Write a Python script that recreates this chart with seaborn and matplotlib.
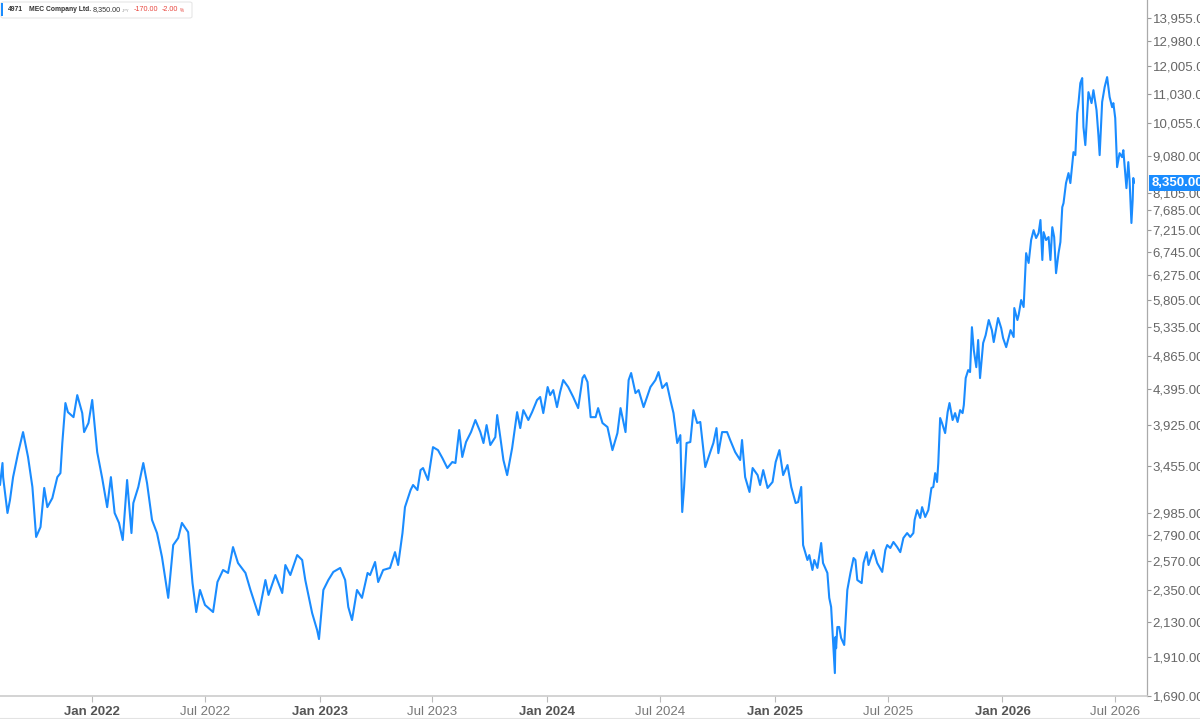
import pandas as pd
import matplotlib.pyplot as plt
from matplotlib.ticker import FixedLocator, FuncFormatter, NullLocator
from matplotlib.patches import FancyBboxPatch, Rectangle
from matplotlib.lines import Line2D
import seaborn as sns

# daily closes (JPY)
dates = [
    '2021-08-06', '2021-08-10', '2021-08-11', '2021-08-18', '2021-08-22', '2021-08-27', '2021-09-04',
    '2021-09-12', '2021-09-20', '2021-09-27', '2021-10-03', '2021-10-10', '2021-10-16', '2021-10-21',
    '2021-10-29', '2021-11-06', '2021-11-11', '2021-11-14', '2021-11-19', '2021-11-23', '2021-12-02',
    '2021-12-08', '2021-12-16', '2021-12-19', '2021-12-26',
    '2022-01-01', '2022-01-09', '2022-01-17', '2022-01-25', '2022-01-31', '2022-02-06', '2022-02-13',
    '2022-02-19', '2022-02-26', '2022-03-05', '2022-03-08', '2022-03-16', '2022-03-24', '2022-03-30',
    '2022-04-07', '2022-04-15', '2022-04-23', '2022-05-03', '2022-05-11', '2022-05-19', '2022-05-25',
    '2022-06-04', '2022-06-11', '2022-06-17', '2022-06-23', '2022-07-01', '2022-07-14', '2022-07-21',
    '2022-07-30', '2022-08-07', '2022-08-15', '2022-08-23', '2022-09-04', '2022-09-12', '2022-09-25',
    '2022-10-06', '2022-10-11', '2022-10-22', '2022-11-02', '2022-11-07', '2022-11-15', '2022-11-26',
    '2022-12-04', '2022-12-09', '2022-12-20', '2022-12-28', '2022-12-31',
    '2023-01-07', '2023-01-15', '2023-01-23', '2023-02-03', '2023-02-11', '2023-02-16', '2023-02-22',
    '2023-03-02', '2023-03-10', '2023-03-19', '2023-03-23', '2023-03-31', '2023-04-05', '2023-04-13',
    '2023-04-24', '2023-05-02', '2023-05-07', '2023-05-14', '2023-05-18', '2023-05-27', '2023-05-31',
    '2023-06-07', '2023-06-12', '2023-06-16', '2023-06-24', '2023-07-02', '2023-07-10', '2023-07-17',
    '2023-07-25', '2023-08-02', '2023-08-07', '2023-08-13', '2023-08-18', '2023-08-24', '2023-09-01',
    '2023-09-08', '2023-09-16', '2023-09-21', '2023-09-26', '2023-10-02', '2023-10-10', '2023-10-13',
    '2023-10-18', '2023-10-23', '2023-10-29', '2023-11-06', '2023-11-14', '2023-11-19', '2023-11-24',
    '2023-12-02', '2023-12-08', '2023-12-16', '2023-12-21', '2023-12-26',
    '2024-01-02', '2024-01-06', '2024-01-11', '2024-01-17', '2024-01-22', '2024-01-27', '2024-02-04',
    '2024-02-12', '2024-02-20', '2024-02-27', '2024-03-01', '2024-03-06', '2024-03-11', '2024-03-19',
    '2024-03-23', '2024-03-30', '2024-04-07', '2024-04-15', '2024-04-23', '2024-04-28', '2024-05-06',
    '2024-05-11', '2024-05-15', '2024-05-22', '2024-05-27', '2024-06-04', '2024-06-15', '2024-06-23',
    '2024-06-28', '2024-07-04', '2024-07-11', '2024-07-17', '2024-07-22', '2024-07-28', '2024-08-02',
    '2024-08-05', '2024-08-08', '2024-08-12', '2024-08-18', '2024-08-23', '2024-08-29', '2024-09-03',
    '2024-09-11', '2024-09-19', '2024-09-24', '2024-09-29', '2024-10-02', '2024-10-08', '2024-10-16',
    '2024-10-21', '2024-10-29', '2024-11-06', '2024-11-09', '2024-11-14', '2024-11-21', '2024-11-26',
    '2024-12-04', '2024-12-08', '2024-12-13', '2024-12-20', '2024-12-28',
    '2025-01-02', '2025-01-08', '2025-01-14', '2025-01-21', '2025-01-27', '2025-02-03', '2025-02-07',
    '2025-02-12', '2025-02-15', '2025-02-22', '2025-02-25', '2025-03-02', '2025-03-05', '2025-03-10',
    '2025-03-16', '2025-03-19', '2025-03-26', '2025-03-29', '2025-04-01', '2025-04-07', '2025-04-08',
    '2025-04-09', '2025-04-11', '2025-04-14', '2025-04-17', '2025-04-22', '2025-04-27', '2025-05-02',
    '2025-05-07', '2025-05-10', '2025-05-13', '2025-05-20', '2025-05-23', '2025-05-28', '2025-05-31',
    '2025-06-08', '2025-06-14', '2025-06-22', '2025-06-27', '2025-06-30', '2025-07-05', '2025-07-10',
    '2025-07-16', '2025-07-21', '2025-07-26', '2025-08-01', '2025-08-06', '2025-08-11', '2025-08-13',
    '2025-08-17', '2025-08-22', '2025-08-25', '2025-08-30', '2025-09-04', '2025-09-09', '2025-09-12',
    '2025-09-15', '2025-09-18', '2025-09-20', '2025-09-23', '2025-09-26', '2025-10-01', '2025-10-05',
    '2025-10-08', '2025-10-13', '2025-10-17', '2025-10-21', '2025-10-25', '2025-10-29', '2025-10-31',
    '2025-11-03', '2025-11-07', '2025-11-10', '2025-11-13', '2025-11-16', '2025-11-20', '2025-11-23',
    '2025-11-26', '2025-12-01', '2025-12-05', '2025-12-10', '2025-12-15', '2025-12-18', '2025-12-25',
    '2025-12-30',
    '2026-01-02', '2026-01-07', '2026-01-14', '2026-01-19', '2026-01-20', '2026-01-25', '2026-01-27',
    '2026-01-31', '2026-02-04', '2026-02-08', '2026-02-12', '2026-02-16', '2026-02-20', '2026-02-24',
    '2026-02-28', '2026-03-03', '2026-03-06', '2026-03-08', '2026-03-12', '2026-03-16', '2026-03-19',
    '2026-03-22', '2026-03-25', '2026-03-28', '2026-04-01', '2026-04-04', '2026-04-07', '2026-04-09',
    '2026-04-13', '2026-04-17', '2026-04-20', '2026-04-25', '2026-04-28', '2026-05-01', '2026-05-03',
    '2026-05-06', '2026-05-09', '2026-05-11', '2026-05-14', '2026-05-19', '2026-05-24', '2026-05-27',
    '2026-06-01', '2026-06-04', '2026-06-06', '2026-06-10', '2026-06-14', '2026-06-18', '2026-06-22',
    '2026-06-26', '2026-06-28', '2026-07-01', '2026-07-04', '2026-07-08', '2026-07-12', '2026-07-14',
    '2026-07-19', '2026-07-22', '2026-07-24', '2026-07-27', '2026-07-29', '2026-07-30', '2026-07-31',
]

prices = [
    3260, 3491, 3341, 2988, 3111, 3341, 3600,
    3844, 3557, 3240, 2773, 2860, 3230, 3043,
    3130, 3341, 3383, 3715, 4208, 4090, 4027,
    4313, 4078, 3844, 3954,
    4248, 3612, 3331, 3043, 3341, 2988, 2897,
    2747, 3311, 2807, 3082, 3240, 3491, 3280,
    2924, 2807, 2605, 2294, 2704, 2764, 2897,
    2815, 2402, 2195, 2351, 2244, 2195, 2410,
    2502, 2479, 2687, 2557, 2479, 2351, 2175,
    2425, 2315, 2463, 2329, 2541, 2463, 2621,
    2581, 2425, 2188, 2075, 2018,
    2351, 2425, 2487, 2518, 2425, 2230, 2141,
    2351, 2294, 2479, 2463, 2565, 2410, 2502,
    2518, 2645, 2541, 2807, 3043, 3209, 3260,
    3209, 3415, 3437, 3311, 3668, 3634, 3546,
    3437, 3502, 3491, 3868, 3557, 3727, 3844,
    3991, 3844, 3715, 3929, 3692, 3784, 4053,
    3784, 3524, 3362, 3657, 4090, 3892, 4116,
    3991, 4090, 4248, 4288, 4078,
    4423, 4313, 4381, 4155, 4354, 4520, 4423,
    4288, 4142, 4549, 4590, 4492, 4027, 4027,
    4142, 3954, 3905, 3634, 3832, 4142, 3844,
    4520, 4620, 4340, 4381, 4155, 4423, 4520,
    4634, 4409, 4478, 4248, 4078, 3715, 3808,
    2997, 3240, 3715, 3727, 4116, 3954, 3967,
    3447, 3612, 3715, 3892, 3600, 3844, 3844,
    3750, 3612, 3524, 3750, 3341, 3190, 3437,
    3362, 3260, 3415, 3230, 3291,
    3502, 3634, 3362, 3469, 3240, 3082, 3091,
    3240, 2704, 2581, 2621, 2502, 2581, 2518,
    2721, 2557, 2479, 2294, 2230, 1815, 2031,
    1961, 2095, 2095, 2025, 1981, 2351, 2479,
    2597, 2581, 2425, 2402, 2557, 2645, 2541,
    2662, 2557, 2487, 2662, 2704, 2679, 2730,
    2687, 2645, 2764, 2807, 2773, 2807, 2924,
    3015, 2942, 3043, 2951, 3015, 3230, 3240,
    3383, 3291, 3491, 4016, 3954, 3832, 4090,
    4208, 3991, 4078, 3967, 4116, 4078, 4182,
    4548, 4662, 4634, 5329, 4962, 4705, 5120,
    4548, 5072, 5197, 5449, 5280, 5088, 5483,
    5313,
    5152, 5008, 5280, 5168, 5656, 5449, 5535,
    5799, 5674, 6710, 6508, 6990, 7209, 7034,
    7143, 7440, 6569, 7165, 6990, 7056, 6569,
    7275, 7056, 6305, 6710, 6947, 7744, 7840,
    8347, 8610, 8347, 9191, 9106, 10376, 10707,
    11395, 11575, 9939, 9395, 11078, 10707, 11146,
    10473, 9692, 9106, 10744, 11252, 11610, 10913,
    10572, 10707, 10219, 8772, 9161, 9049, 9247,
    8216, 8910, 8427, 7371, 7918, 8479, 8350,
]

y_ticks = [1690, 1910, 2130, 2350, 2570, 2790, 2985, 3455, 3925, 4395, 4865, 5335,
           5805, 6275, 6745, 7215, 7685, 8105, 9080, 10055, 11030, 12005, 12980, 13955]
x_ticks = ['2022-01-01', '2022-07-01', '2023-01-01', '2023-07-01', '2024-01-01',
           '2024-07-01', '2025-01-01', '2025-07-01', '2026-01-01', '2026-07-01']
x_labels = ['Jan 2022', 'Jul 2022', 'Jan 2023', 'Jul 2023', 'Jan 2024',
            'Jul 2024', 'Jan 2025', 'Jul 2025', 'Jan 2026', 'Jul 2026']

ticker_code = '4971'
company = 'MEC Company Ltd.'
last_price = 8350.00
change = -170.00
change_pct = -2.00

blue = '#1a8cff'
red = '#e8473f'

df = pd.DataFrame({'date': pd.to_datetime(dates), 'price': prices})

sns.set_style('white')
plt.rcParams['font.family'] = ['Liberation Sans', 'DejaVu Sans']

W, H = 1200, 719
fig = plt.figure(figsize=(W / 100, H / 100), dpi=100)
ax = fig.add_axes([0, 23 / H, 1147 / W, 696 / H])

sns.lineplot(data=df, x='date', y='price', ax=ax, color=blue, linewidth=1.5)

ax.set_yscale('log')
ax.set_ylim(1690, 14760)
ax.set_xlim(pd.Timestamp('2021-08-06'), pd.Timestamp('2026-08-21'))
ax.set_xlabel('')
ax.set_ylabel('')

# right-hand price axis
ax.yaxis.tick_right()
ax.yaxis.set_major_locator(FixedLocator(y_ticks))
ax.yaxis.set_minor_locator(NullLocator())
ax.yaxis.set_major_formatter(FuncFormatter(lambda v, p: f'{v:,.2f}'))
ax.tick_params(axis='y', which='major', right=True, left=False, length=3, width=0.8,
               color='#999999', labelsize=9.5, labelcolor='#666666', pad=1)

# date axis
ax.set_xticks(pd.to_datetime(x_ticks))
ax.set_xticklabels(x_labels)
ax.tick_params(axis='x', bottom=True, length=4, width=0.8, color='#bbbbbb',
               labelsize=9.5, pad=3)
for lab in ax.get_xticklabels():
    if lab.get_text().startswith('Jan'):
        lab.set_fontweight('bold')
        lab.set_color('#555555')
    else:
        lab.set_color('#777777')

for side in ['top', 'left']:
    ax.spines[side].set_visible(False)
ax.spines['right'].set_color('#aaaaaa')
ax.spines['right'].set_linewidth(0.9)
ax.spines['bottom'].set_color('#cccccc')
ax.spines['bottom'].set_linewidth(1.2)

# last price marker on the axis
ax.annotate(f'{last_price:,.2f}', xy=(1, last_price), xycoords=ax.get_yaxis_transform(),
            xytext=(3, 0), textcoords='offset points', ha='left', va='center',
            fontsize=9.5, fontweight='bold', color='white', annotation_clip=False, zorder=10,
            bbox=dict(boxstyle='square,pad=0.18', fc=blue, ec='none'))

# thin line at the very bottom of the figure
fig.add_artist(Line2D([0, 1], [0.5 / H, 0.5 / H], transform=fig.transFigure,
                      color='#e3e3e3', linewidth=1.5))

# legend box in the top-left corner
fig.add_artist(FancyBboxPatch((1 / W, 1 - 18 / H), 191 / W, 16 / H,
                              boxstyle='round,pad=0,rounding_size=0.002',
                              transform=fig.transFigure, fc='white', ec='#e6e6e6', lw=0.8))
fig.add_artist(Rectangle((1 / W, 1 - 16 / H), 2 / W, 13 / H, transform=fig.transFigure,
                         fc=blue, ec='none'))
ty = 1 - 9.5 / H
fs = 4.9
fig.text(8 / W, ty, ticker_code, fontsize=fs, fontweight='bold', color='#333333', va='center')
fig.text(29 / W, ty, company, fontsize=fs, fontweight='bold', color='#333333', va='center')
fig.text(93 / W, ty, f'{last_price:,.2f}', fontsize=fs + 0.3, color='#333333', va='center')
fig.text(122 / W, ty - 1 / H, 'JPY', fontsize=3.0, color='#999999', va='center')
fig.text(134 / W, ty, f'{change:,.2f}', fontsize=fs + 0.3, color=red, va='center')
fig.text(162 / W, ty, f'{change_pct:.2f}', fontsize=fs + 0.3, color=red, va='center')
fig.text(180 / W, ty - 1 / H, '%', fontsize=3.3, color=red, va='center')

fig.savefig('out.png', dpi=100)
